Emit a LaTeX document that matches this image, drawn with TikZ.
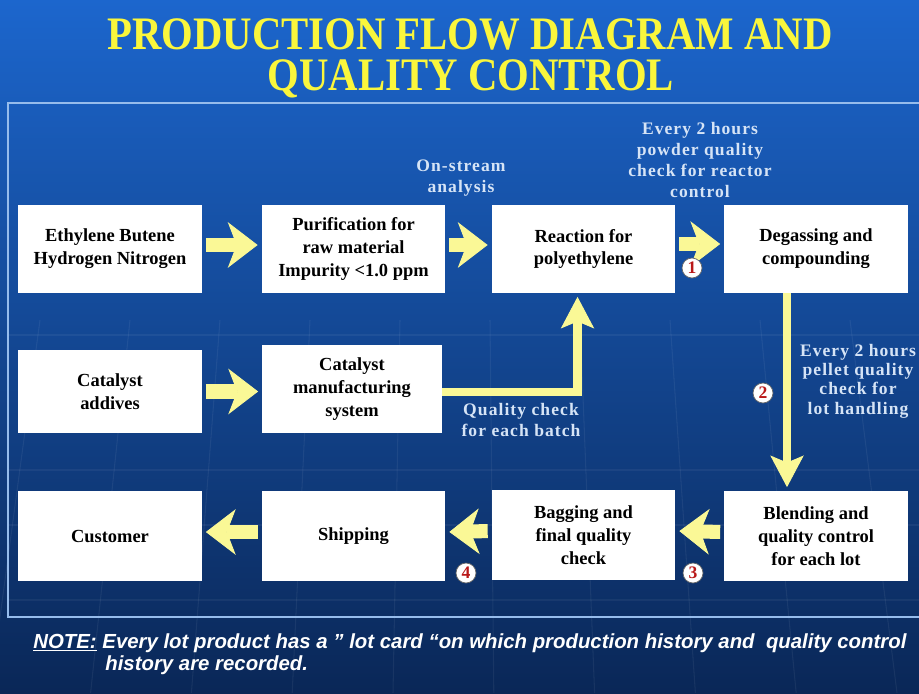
\documentclass[tikz,border=0pt]{standalone}
\usepackage{fontspec}
\setmainfont{Liberation Serif}
\newfontfamily\titlefont[FakeStretch=0.875]{Liberation Serif}
\newfontfamily\labelfont[LetterSpace=6]{Liberation Serif}
\newfontfamily\notefont{Liberation Sans}
\usetikzlibrary{arrows.meta,calc}

\definecolor{bgtop}{RGB}{28,102,205}
\definecolor{bgmid}{RGB}{20,80,173}
\definecolor{bgbot}{RGB}{10,39,87}
\definecolor{titleyellow}{RGB}{250,246,60}
\definecolor{arrowyellow}{RGB}{250,248,150}
\definecolor{labelblue}{RGB}{214,228,246}
\definecolor{framelight}{RGB}{150,188,236}
\definecolor{badgered}{RGB}{185,25,25}

\tikzset{
  stagebox/.style={fill=white, minimum width=3.68cm, minimum height=1.76cm, inner sep=0pt,
    align=center, text=black, font=\bfseries\fontsize{10.5}{13}\selectfont},
  fatarrow/.style={draw=arrowyellow, line width=8pt,
    -{Stealth[length=17pt,width=26pt,inset=5pt,line width=0.5pt]},
    shorten <=2pt, shorten >=2pt},
  riser/.style={fatarrow, line width=5pt, shorten <=0pt,
    -{Stealth[length=18pt,width=19pt,inset=4pt,line width=0.5pt]}},
  badge/.style={circle, fill=white, draw=black!60, line width=0.4pt, minimum size=0.4cm,
    inner sep=0pt, text=badgered, font=\bfseries\fontsize{10}{10}\selectfont},
  qclabel/.style={text=labelblue, align=center, font=\labelfont\bfseries\fontsize{10}{12}\selectfont},
  headline/.style={anchor=base, inner sep=0pt, text=titleyellow,
    font=\titlefont\bfseries\fontsize{26.5}{26.5}\selectfont}
}

\begin{document}
\begin{tikzpicture}[x=0.02cm, y=-0.02cm]
    \useasboundingbox (0,0) rectangle (919,693);

    % Background and panel frame
    \shade[top color=bgtop, middle color=bgmid, bottom color=bgbot] (0,0) rectangle (919,693);
    \foreach \x in {40,130,220,310,400,490,580,670,760,850}
        \draw[white, opacity=0.06, line width=0.6pt] (\x,320) -- (\x*1.12-55,693);
    \foreach \y in {335,470,525,600}
        \draw[white, opacity=0.05, line width=0.6pt] (8,\y) -- (919,\y);
    \draw[framelight, line width=1.2pt] (925,103) -- (8,103) -- (8,617) -- (925,617);

    % Title
    \node[headline] (title)  at (470,50) {PRODUCTION FLOW DIAGRAM AND};
    \node[headline] (title2) at (471,90) {QUALITY CONTROL};

    % Top row
    \node[stagebox] (feed)   at (110,249)   {Ethylene Butene\\Hydrogen Nitrogen};
    \node[stagebox] (purify) at (353.5,249) {Purification for\\raw material\\Impurity <1.0 ppm};
    \node[stagebox] (react)  at (583.5,249) {Reaction for\\polyethylene};
    \node[stagebox] (degas)  at (816,249)   {Degassing and\\compounding};

    % Catalyst row
    \node[stagebox, minimum height=1.66cm] (catin)  at (110,391.5) {Catalyst\\addives};
    \node[stagebox, minimum width=3.6cm]   (catsys) at (352,389)   {Catalyst\\manufacturing\\system};

    % Bottom row
    \node[stagebox, minimum height=1.8cm] (cust)  at (110,536)   {Customer};
    \node[stagebox, minimum height=1.8cm] (ship)  at (353.5,536) {Shipping};
    \node[stagebox, minimum height=1.8cm] (bag)   at (583.5,535) {Bagging and\\final quality\\check};
    \node[stagebox, minimum height=1.8cm] (blend) at (816,536)   {Blending and\\quality control\\for each lot};

    % Flow arrows
    \draw[fatarrow] ([yshift=0.08cm]feed.east) -- ([yshift=0.08cm]purify.west);
    \draw[fatarrow] ([yshift=0.08cm]purify.east) -- ([yshift=0.08cm]react.west);
    \draw[fatarrow] ([yshift=0.1cm]react.east) -- ([yshift=0.1cm]degas.west);
    \draw[fatarrow] (catin.east) -- (catin.east -| catsys.west);
    \draw[riser] ([yshift=-0.06cm]catsys.east) -| ([xshift=-0.12cm]react.south);
    \draw[riser] ([xshift=-0.58cm]degas.south) -- ([xshift=-0.58cm]blend.north);
    \draw[fatarrow] ([yshift=0.08cm]blend.west) -- ([yshift=0.08cm]bag.east);
    \draw[fatarrow] ([yshift=0.08cm]bag.west) -- ([yshift=0.08cm]ship.west -| ship.east);
    \draw[fatarrow] ([yshift=0.08cm]ship.west) -- ([yshift=0.08cm]cust.east);

    % Check points
    \node[badge] (b1) at (692,268) {1};
    \node[badge] (b2) at (763,393) {2};
    \node[badge] (b3) at (693,573) {3};
    \node[badge] (b4) at (466,573) {4};

    % Quality control notes
    \node[qclabel] (onstream) at (461,178) {On-stream\\analysis};
    \node[qclabel] (powder)   at (700,160) {Every 2 hours\\powder quality\\check for reactor\\control};
    \node[qclabel, font=\labelfont\bfseries\fontsize{10}{11}\selectfont] (pellet) at (858,381)
        {Every 2 hours\\pellet quality\\check for\\lot handling};
    \node[qclabel] (batch)    at (521,420) {Quality check\\for each batch};

    % Footnote
    \node[anchor=north west, text=white, align=left, inner sep=0pt,
          font=\notefont\bfseries\itshape\fontsize{11.6}{13}\selectfont]
        (note) at (33,633) {\underline{NOTE:} Every lot product has a ” lot card “on which production history and\ \ quality control\\\hspace*{1.44cm}history are recorded.};
\end{tikzpicture}
\end{document}
